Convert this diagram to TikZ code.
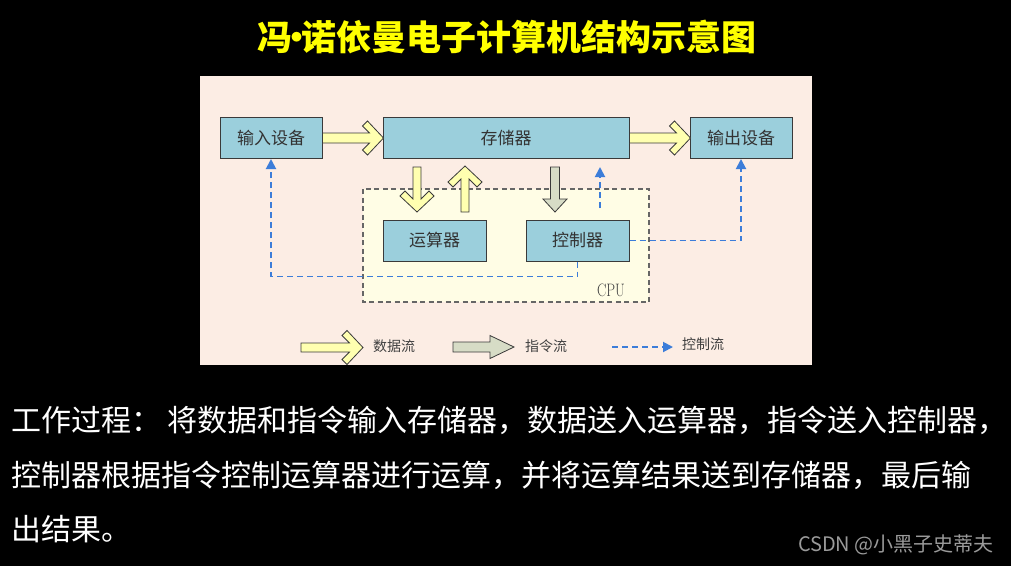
\documentclass[tikz,border=0pt]{standalone}
\usepackage{fontspec}
\newfontfamily\cjk{Noto Sans CJK SC}
\usetikzlibrary{arrows.meta}
\definecolor{panel}{HTML}{FCEDE4}
\definecolor{cpufill}{HTML}{FFFDE5}
\definecolor{boxfill}{HTML}{9BCFDC}
\definecolor{yfill}{HTML}{FFFFB0}
\definecolor{gfill}{HTML}{D7DCC6}
\definecolor{edge}{HTML}{3A3A3A}
\definecolor{ctl}{HTML}{3C7DD9}
\definecolor{titley}{HTML}{FFFF00}
\definecolor{wm}{HTML}{9A9A9A}
\begin{document}
\begin{tikzpicture}[x=1pt,y=-1pt,
  unitbox/.style={draw=edge, line width=1pt, fill=boxfill, minimum height=41pt, inner sep=0pt,
    font=\cjk\fontsize{17}{17}\selectfont, text=black!80},
  ctlflow/.style={draw=ctl, line width=1.9pt, dash pattern=on 6pt off 4pt,
    -{Triangle[length=10pt,width=10pt]}},
  legendtext/.style={font=\cjk\fontsize{14}{14}\selectfont, text=black!75, inner sep=0pt},
  bodytext/.style={anchor=west, inner sep=0pt, text=white, font=\cjk\fontsize{30}{30}\selectfont},
  pics/yarrow/.style n args={2}{code={
    \filldraw[fill=yfill, draw=edge, line width=0.8pt, line join=miter]
      (0,-#2) -- ({#1-9-#2},-#2) -- ({#1-21},-12) -- ({#1-16},-17) -- (#1,0)
      -- ({#1-16},17) -- ({#1-21},12) -- ({#1-9-#2},#2) -- (0,#2) -- cycle;}},
  pics/garrow/.style n args={4}{code={
    \filldraw[fill=gfill, draw=edge, line width=0.8pt, line join=miter]
      (0,-#2) -- ({#1-#3},-#2) -- ({#1-#3},-#4) -- (#1,0)
      -- ({#1-#3},#4) -- ({#1-#3},#2) -- (0,#2) -- cycle;}}
]
\fill[black] (0,0) rectangle (1011,566);
\useasboundingbox (0,0) rectangle (1011,566);

% title
\node[font=\cjk\bfseries\fontsize{35}{35}\selectfont, text=titley, inner sep=0pt] (title) at (507,37) {冯\kern-0.36em·\kern-0.36em 诺依曼电子计算机结构示意图};

% panel
\fill[panel] (200,76) rectangle (812,365);

% CPU region
\filldraw[fill=cpufill, draw=black!60, line width=1.2pt, dash pattern=on 5pt off 3.5pt] (363,189) rectangle (649,302);
\node[font=\rmfamily\fontsize{18}{18}\selectfont, xscale=0.78, text=black!75, inner sep=0pt] (cpu) at (611,290) {CPU};

% units
\node[unitbox, minimum width=102pt] (in)  at (271,138)   {输入设备};
\node[unitbox, minimum width=246pt] (st)  at (506,138)   {存储器};
\node[unitbox, minimum width=102pt] (out) at (741,138)   {输出设备};
\node[unitbox, minimum width=103pt] (alu) at (434.5,240.5) {运算器};
\node[unitbox, minimum width=103pt] (ctl) at (577.5,240.5) {控制器};

% data flow arrows
\path (in.east) pic {yarrow={61}{5}};
\path (st.east) pic {yarrow={61}{5}};
\path (417,167) pic[rotate=-90] {yarrow={45}{4}};
\path (465,212) pic[rotate=90] {yarrow={46}{4}};
% instruction flow
\path (555,167) pic[rotate=-90] {garrow={45}{4.5}{13}{12}};

% control flow
\coordinate (cu0) at (600,208);
\coordinate (cu1) at (600,167);
\draw[ctlflow] (cu0) -- (cu1);
\draw[ctlflow] (ctl.east) -| (out.south);
\draw[ctlflow] (ctl.south) -- ++(0,15) -| (in.south);

% legend
\path (301,347.5) pic {yarrow={62}{4.5}};
\node[legendtext] (l1t) at (394,346) {数据流};
\path (453,347) pic {garrow={61}{5}{24}{11.5}};
\node[legendtext] (l2t) at (546,346) {指令流};
\coordinate (lc0) at (612,347);
\coordinate (lc1) at (673,347);
\draw[ctlflow] (lc0) -- (lc1);
\node[legendtext] (l3t) at (703,344) {控制流};

% body text
\node[bodytext] (b1) at (11,420) {工作过程： 将数据和指令输入存储器，数据送入运算器，指令送入控制器，};
\node[bodytext] (b2) at (11,475) {控制器根据指令控制运算器进行运算，并将运算结果送到存储器，最后输};
\node[bodytext] (b3) at (11,529) {出结果。};

% watermark
\node[anchor=east, inner sep=0pt, text=wm, font=\cjk\fontsize{20}{20}\selectfont] (wmk) at (994,545) {CSDN @小黑子史蒂夫};
\end{tikzpicture}
\end{document}
